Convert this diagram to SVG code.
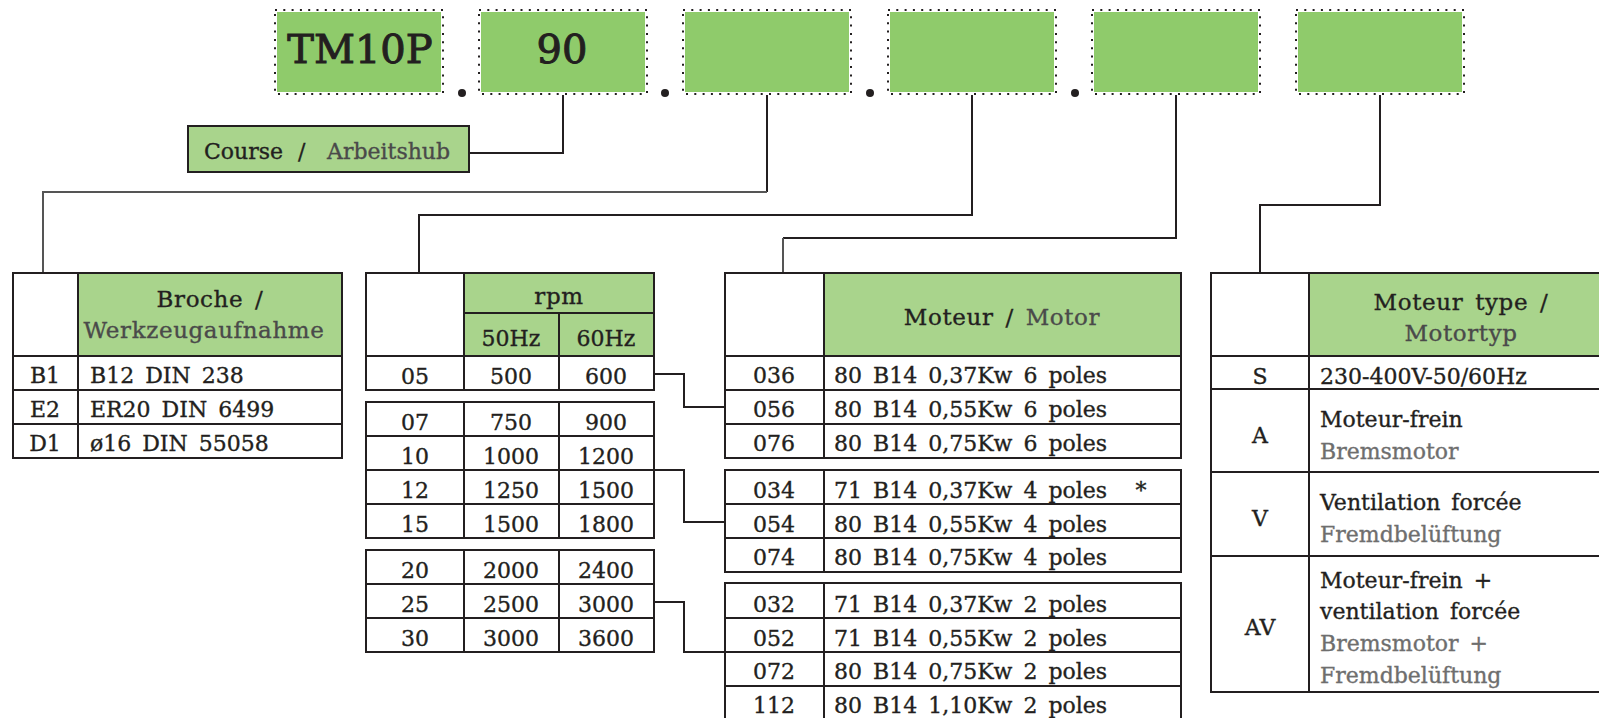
<svg xmlns="http://www.w3.org/2000/svg" width="1599" height="718" viewBox="0 0 1599 718">
<style>
.t{font-family:"DejaVu Serif","Liberation Serif",serif;font-size:22px;fill:#231f20;stroke:#231f20;stroke-width:0.35;word-spacing:4px}
.h{font-size:23px;letter-spacing:0.6px}
.c{text-anchor:middle}
.g{fill:#4a4a4a;stroke:#4a4a4a}
.g2{fill:#6e6e6e;stroke:#6e6e6e}
.ln{stroke:#231f20;stroke-width:2;fill:none}
.lg{stroke:#555;stroke-width:2;fill:none}
.box{fill:#8fcb6b}
.dot{fill:none;stroke:#231f20;stroke-width:2;stroke-dasharray:2 6.3}
.hd{fill:#a9d48c}
.big{font-family:"DejaVu Serif","Liberation Serif",serif;font-size:40px;fill:#231f20;stroke:#231f20;stroke-width:1;text-anchor:middle}
</style>

<g id="code-boxes">
  <g id="box-tm10p"><rect class="box" x="277" y="12" width="164" height="80"/><rect class="dot" x="275" y="10" width="168" height="84"/><text class="big" x="360" y="63">TM10P</text></g>
  <circle cx="462" cy="93" r="4" fill="#231f20"/>
  <g id="box-90"><rect class="box" x="481" y="12" width="164" height="80"/><rect class="dot" x="479" y="10" width="168" height="84"/><text class="big" x="562" y="63" font-size="38">90</text></g>
  <circle cx="665" cy="93" r="4" fill="#231f20"/>
  <g id="box-3"><rect class="box" x="685" y="12" width="164" height="80"/><rect class="dot" x="683" y="10" width="168" height="84"/></g>
  <circle cx="870" cy="93" r="4" fill="#231f20"/>
  <g id="box-4"><rect class="box" x="890" y="12" width="164" height="80"/><rect class="dot" x="888" y="10" width="168" height="84"/></g>
  <circle cx="1075" cy="93" r="4" fill="#231f20"/>
  <g id="box-5"><rect class="box" x="1094" y="12" width="164" height="80"/><rect class="dot" x="1092" y="10" width="168" height="84"/></g>
  <g id="box-6"><rect class="box" x="1298" y="12" width="164" height="80"/><rect class="dot" x="1296" y="10" width="168" height="84"/></g>
</g>

<g id="course">
  <rect x="188" y="126" width="281" height="46" fill="#a9d48c" stroke="#231f20" stroke-width="2"/>
  <text class="t" font-size="23" y="159"><tspan x="204">Course</tspan><tspan x="298">/</tspan><tspan x="327" class="g">Arbeitshub</tspan></text>
</g>

<g id="connectors">
  <path class="ln" d="M563,95 V153 H469"/>
  <path class="ln" d="M767,95 V192"/>
  <path class="lg" d="M767,192 H43 V273"/>
  <path class="ln" d="M972,95 V215 H419 V273"/>
  <path class="ln" d="M1176,95 V238 H783"/>
  <path class="lg" d="M783,238 V273"/>
  <path class="ln" d="M1380,95 V205 H1260 V273"/>
  <path class="ln" d="M654,374 H684 V407 H725"/>
  <path class="ln" d="M654,470 H684 V522 H725"/>
  <path class="ln" d="M654,602 H684 V652 H725"/>
</g>

<g id="table-broche">
  <rect class="hd" x="78" y="273" width="264" height="83"/>
  <rect class="ln" x="13" y="273" width="329" height="185"/>
  <path class="ln" d="M78,273 V458 M13,356 H342 M13,390 H342 M13,424 H342"/>
  <text class="t h c" x="210" y="307">Broche /</text>
  <text class="t h c g" x="204" y="338">Werkzeugaufnahme</text>
  <text class="t c" x="45" y="383">B1</text>
  <text class="t c" x="45" y="417">E2</text>
  <text class="t c" x="45" y="451">D1</text>
  <text class="t" x="90" y="383">B12 DIN 238</text>
  <text class="t" x="90" y="417">ER20 DIN 6499</text>
  <text class="t" x="90" y="451">ø16 DIN 55058</text>
</g>

<g id="table-rpm">
  <rect class="hd" x="464" y="273" width="190" height="83"/>
  <rect class="ln" x="366" y="273" width="288" height="117"/>
  <path class="ln" d="M464,273 V390 M464,313 H654 M559,313 V390 M366,356 H654"/>
  <text class="t h c" x="559" y="304">rpm</text>
  <text class="t c" x="511" y="346">50Hz</text>
  <text class="t c" x="606" y="346">60Hz</text>
  <text class="t c" x="415" y="384">05</text><text class="t c" x="511" y="384">500</text><text class="t c" x="606" y="384">600</text>
  <rect class="ln" x="366" y="402" width="288" height="136"/>
  <path class="ln" d="M464,402 V538 M559,402 V538 M366,436 H654 M366,470 H654 M366,504 H654"/>
  <text class="t c" x="415" y="430">07</text><text class="t c" x="511" y="430">750</text><text class="t c" x="606" y="430">900</text>
  <text class="t c" x="415" y="464">10</text><text class="t c" x="511" y="464">1000</text><text class="t c" x="606" y="464">1200</text>
  <text class="t c" x="415" y="498">12</text><text class="t c" x="511" y="498">1250</text><text class="t c" x="606" y="498">1500</text>
  <text class="t c" x="415" y="532">15</text><text class="t c" x="511" y="532">1500</text><text class="t c" x="606" y="532">1800</text>
  <rect class="ln" x="366" y="550" width="288" height="102"/>
  <path class="ln" d="M464,550 V652 M559,550 V652 M366,584 H654 M366,618 H654"/>
  <text class="t c" x="415" y="578">20</text><text class="t c" x="511" y="578">2000</text><text class="t c" x="606" y="578">2400</text>
  <text class="t c" x="415" y="612">25</text><text class="t c" x="511" y="612">2500</text><text class="t c" x="606" y="612">3000</text>
  <text class="t c" x="415" y="646">30</text><text class="t c" x="511" y="646">3000</text><text class="t c" x="606" y="646">3600</text>
</g>

<g id="table-motor">
  <rect class="hd" x="824" y="273" width="357" height="83"/>
  <rect class="ln" x="725" y="273" width="456" height="185"/>
  <path class="ln" d="M824,273 V458 M725,356 H1181 M725,390 H1181 M725,424 H1181"/>
  <text class="t h c" x="1002" y="325">Moteur / <tspan class="g">Motor</tspan></text>
  <text class="t c" x="774" y="383">036</text><text class="t" x="834" y="383">80 B14 0,37Kw 6 poles</text>
  <text class="t c" x="774" y="417">056</text><text class="t" x="834" y="417">80 B14 0,55Kw 6 poles</text>
  <text class="t c" x="774" y="451">076</text><text class="t" x="834" y="451">80 B14 0,75Kw 6 poles</text>
  <rect class="ln" x="725" y="470" width="456" height="102"/>
  <path class="ln" d="M824,470 V572 M725,504 H1181 M725,538 H1181"/>
  <text class="t c" x="774" y="498">034</text><text class="t" x="834" y="498">71 B14 0,37Kw 4 poles</text><text class="t c" x="1141" y="498">*</text>
  <text class="t c" x="774" y="532">054</text><text class="t" x="834" y="532">80 B14 0,55Kw 4 poles</text>
  <text class="t c" x="774" y="565">074</text><text class="t" x="834" y="565">80 B14 0,75Kw 4 poles</text>
  <rect class="ln" x="725" y="583" width="456" height="137"/>
  <path class="ln" d="M824,583 V720 M725,618 H1181 M725,652 H1181 M725,686 H1181"/>
  <text class="t c" x="774" y="612">032</text><text class="t" x="834" y="612">71 B14 0,37Kw 2 poles</text>
  <text class="t c" x="774" y="646">052</text><text class="t" x="834" y="646">71 B14 0,55Kw 2 poles</text>
  <text class="t c" x="774" y="679">072</text><text class="t" x="834" y="679">80 B14 0,75Kw 2 poles</text>
  <text class="t c" x="774" y="713">112</text><text class="t" x="834" y="713">80 B14 1,10Kw 2 poles</text>
</g>

<g id="table-type">
  <rect class="hd" x="1309" y="273" width="305" height="83"/>
  <rect class="ln" x="1211" y="273" width="403" height="419"/>
  <path class="ln" d="M1309,273 V692 M1211,356 H1614 M1211,389 H1614 M1211,472 H1614 M1211,556 H1614"/>
  <text class="t h c" x="1461" y="310">Moteur type /</text>
  <text class="t h c g" x="1461" y="341">Motortyp</text>
  <text class="t c" x="1260" y="384">S</text><text class="t" x="1320" y="384">230-400V-50/60Hz</text>
  <text class="t c" x="1260" y="443">A</text>
  <text class="t" x="1320" y="427">Moteur-frein</text>
  <text class="t g2" x="1320" y="459">Bremsmotor</text>
  <text class="t c" x="1260" y="526">V</text>
  <text class="t" x="1320" y="510">Ventilation forcée</text>
  <text class="t g2" x="1320" y="542">Fremdbelüftung</text>
  <text class="t c" x="1260" y="635">AV</text>
  <text class="t" x="1320" y="588">Moteur-frein +</text>
  <text class="t" x="1320" y="619">ventilation forcée</text>
  <text class="t g2" x="1320" y="651">Bremsmotor +</text>
  <text class="t g2" x="1320" y="683">Fremdbelüftung</text>
</g>
</svg>
